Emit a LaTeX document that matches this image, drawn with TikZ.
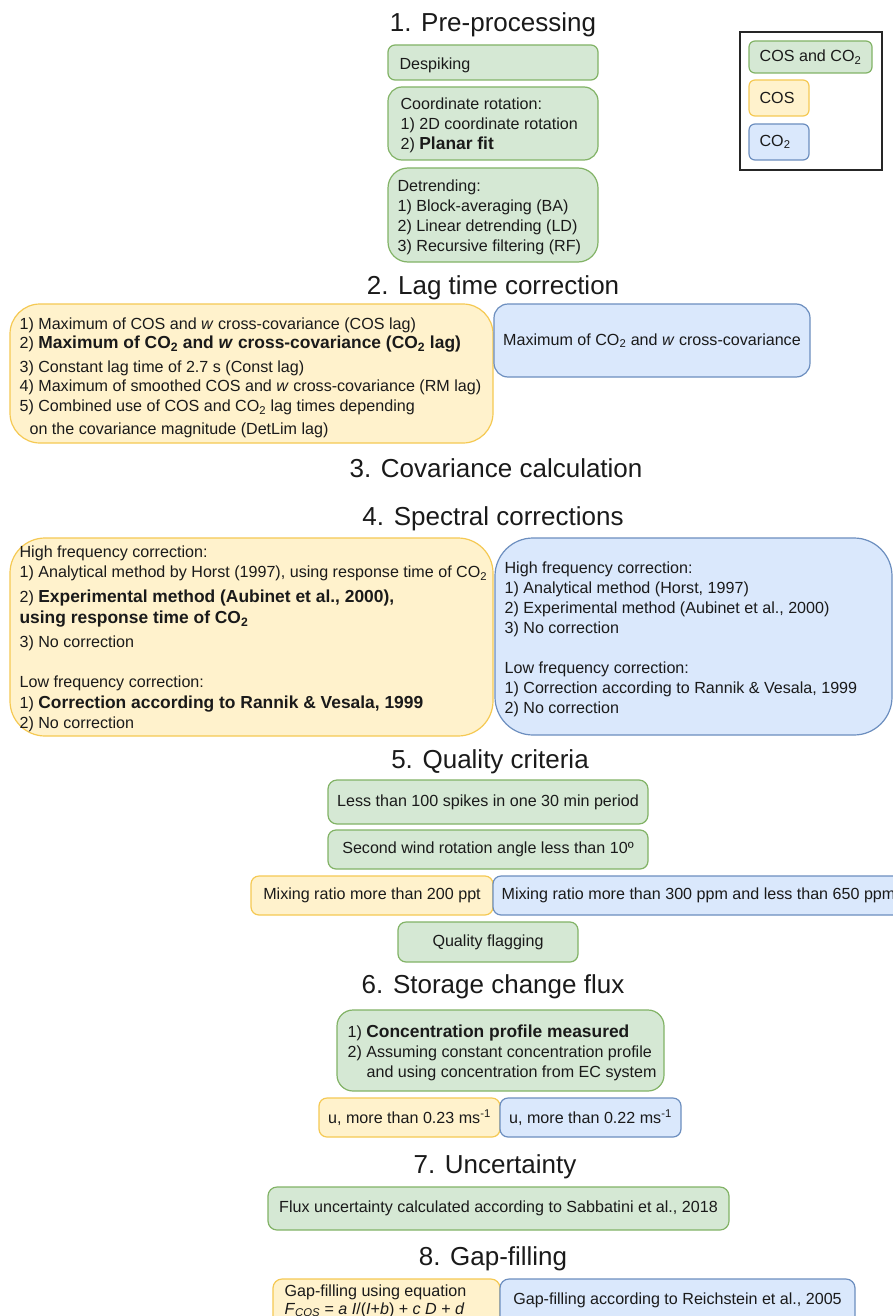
\documentclass[tikz,border=0pt]{standalone}
\usepackage{fontspec}
\setmainfont{Liberation Sans}
\definecolor{gfill}{HTML}{D5E8D4}
\definecolor{gline}{HTML}{82B366}
\definecolor{yfill}{HTML}{FFF2CC}
\definecolor{yline}{HTML}{F5C953}
\definecolor{bfill}{HTML}{DAE8FC}
\definecolor{bline}{HTML}{6C8EBF}
\definecolor{txtc}{HTML}{1A1A1A}
\newcommand{\cotwo}{CO\textsubscript{2}}
\newcommand{\bodyf}{\fontsize{16.1}{20}\selectfont}
\newcommand{\bigb}{\fontsize{17.4}{20}\selectfont\bfseries}
\newcommand{\headf}{\fontsize{26}{30}\selectfont}
\begin{document}
\begin{tikzpicture}[x=1pt,y=-1pt,
  every node/.style={text=txtc},
  boxbase/.style={draw, line width=1.2pt, inner sep=0pt, font=\bodyf, align=center},
  gbox/.style={boxbase, fill=gfill, draw=gline},
  ybox/.style={boxbase, fill=yfill, draw=yline},
  bbox/.style={boxbase, fill=bfill, draw=bline},
  wh/.style n args={2}{minimum width=#1, minimum height=#2},
  txt/.style={font=\bodyf, align=left, inner sep=0pt, anchor=west},
  head/.style={font=\headf, inner sep=0pt},
]
\useasboundingbox (0,0) rectangle (893,1316);
\clip (0,0) rectangle (893,1316);
\fill[white] (0,0) rectangle (893,1316);

% ---------- 1. Pre-processing
\node[head] (h1) at (493,25) {1. Pre-processing};
\node[gbox, wh={210}{35}, rounded corners=7] (desp) at (493,62.5) {};
\node[txt] (despT) at ([xshift=12pt,yshift=-2.5pt]desp.west) {Despiking};
\node[gbox, wh={210}{73}, rounded corners=14] (rot) at (493,123.5) {};
\node[txt] (rotT) at ([xshift=13pt,yshift=-2pt]rot.west) {Coordinate rotation:\\1) 2D coordinate rotation\\2) {\bigb Planar fit}};
\node[gbox, wh={210}{94}, rounded corners=20] (det) at (493,215) {};
\node[txt] (detT) at ([xshift=10pt,yshift=-2.5pt]det.west) {Detrending:\\1) Block-averaging (BA)\\2) Linear detrending (LD)\\3) Recursive filtering (RF)};

% ---------- legend
\node[draw=black!85, line width=1.4pt, wh={142}{138}, inner sep=0pt] (leg) at (811,101) {};
\node[gbox, wh={123}{32}, rounded corners=6] (legG) at (810.5,57) {COS and \cotwo};
\node[ybox, wh={60}{36}, rounded corners=6] (legY) at (779,98) {};
\node[txt] (legYT) at ([xshift=11pt]legY.west) {COS};
\node[bbox, wh={60}{36}, rounded corners=6] (legB) at (779,142) {};
\node[txt] (legBT) at ([xshift=11pt]legB.west) {\cotwo};

% ---------- 2. Lag time correction
\node[head] (h2) at (493,288) {2. Lag time correction};
\node[ybox, wh={483}{139}, rounded corners=30] (lagY) at (251.5,373.5) {};
\node[txt] (lagYT) at ([xshift=10pt,yshift=-4.5pt]lagY.west) {1) Maximum of COS and \textit{w} cross-covariance (COS lag)\\[-1pt]
2) {\bigb Maximum of \cotwo{} and \textit{w} cross-covariance (\cotwo{} lag)}\\[4pt]
3) Constant lag time of 2.7 s (Const lag)\\[-1pt]
4) Maximum of smoothed COS and \textit{w} cross-covariance (RM lag)\\
5) Combined use of COS and \cotwo{} lag times depending\\[3pt]
\hspace*{10pt}on the covariance magnitude (DetLim lag)};
\node[bbox, wh={316}{73}, rounded corners=14] (lagB) at (652,340.5) {Maximum of \cotwo{} and \textit{w} cross-covariance};

% ---------- 3. Covariance calculation
\node[head] (h3) at (496,468) {3. Covariance calculation};

% ---------- 4. Spectral corrections
\node[head] (h4) at (493,519) {4. Spectral corrections};
\node[ybox, wh={483}{198}, rounded corners=35] (specY) at (251.5,637) {};
\node[txt] (specYT) at ([xshift=10pt,yshift=-2pt]specY.west) {High frequency correction:\\
1) Analytical method by Horst (1997), using response time of \cotwo\\[5pt]
2) {\bigb Experimental method (Aubinet et al., 2000),}\\[1pt]
{\bigb using response time of \cotwo}\\[4pt]
3) No correction\\[20pt]
Low frequency correction:\\[1pt]
1) {\bigb Correction according to Rannik \& Vesala, 1999}\\
2) No correction};
\node[bbox, wh={397}{197}, rounded corners=38] (specB) at (693.5,636.5) {};
\node[txt] (specBT) at ([xshift=10pt,yshift=-3pt]specB.west) {High frequency correction:\\
1) Analytical method (Horst, 1997)\\
2) Experimental method (Aubinet et al., 2000)\\
3) No correction\\[20pt]
Low frequency correction:\\
1) Correction according to Rannik \& Vesala, 1999\\
2) No correction};

% ---------- 5. Quality criteria
\node[head] (h5) at (490,762) {5. Quality criteria};
\node[gbox, wh={320}{44}, rounded corners=9] (q1) at (488,802) {Less than 100 spikes in one 30 min period};
\node[gbox, wh={320}{39}, rounded corners=8] (q2) at (488,849.5) {Second wind rotation angle less than 10º};
\node[ybox, wh={242}{39}, rounded corners=8] (q3Y) at (372,895.5) {Mixing ratio more than 200 ppt};
\node[bbox, wh={420}{39}, rounded corners=8] (q3B) at (703,895.5) {};
\node[txt] (q3BT) at ([xshift=9pt]q3B.west) {Mixing ratio more than 300 ppm and less than 650 ppm};
\node[gbox, wh={180}{40}, rounded corners=8] (q4) at (488,942) {Quality flagging};

% ---------- 6. Storage change flux
\node[head] (h6) at (493,987) {6. Storage change flux};
\node[gbox, wh={327}{81}, rounded corners=16] (st) at (500.5,1050.5) {};
\node[txt] (stT) at ([xshift=11pt,yshift=-2.5pt]st.west) {1) {\bigb Concentration profile measured}\\
2) Assuming constant concentration profile\\
\hspace*{19pt}and using concentration from EC system};
\node[ybox, wh={181}{39}, rounded corners=8] (usY) at (409.5,1117.5) {u, more than 0.23 ms\textsuperscript{-1}};
\node[bbox, wh={181}{39}, rounded corners=8] (usB) at (590.5,1117.5) {u, more than 0.22 ms\textsuperscript{-1}};

% ---------- 7. Uncertainty
\node[head] (h7) at (495,1167) {7. Uncertainty};
\node[gbox, wh={461}{43}, rounded corners=9] (unc) at (498.5,1208.5) {Flux uncertainty calculated according to Sabbatini et al., 2018};

% ---------- 8. Gap-filling
\node[head] (h8) at (493,1259) {8. Gap-filling};
\node[ybox, wh={227}{48}, rounded corners=9] (gfY) at (386.5,1303) {};
\node[txt] (gfYT) at ([xshift=12pt,yshift=2pt]gfY.west) {Gap-filling using equation\\[-2pt]
\textit{F}\textsubscript{\textit{COS}} = \textit{a I}/(\textit{I}+\textit{b}) + \textit{c D} + \textit{d}};
\node[bbox, wh={355}{48}, rounded corners=9] (gfB) at (677.5,1303) {};
\node[font=\bodyf, inner sep=0pt] (gfBT) at (677.5,1300) {Gap-filling according to Reichstein et al., 2005};
\end{tikzpicture}
\end{document}
